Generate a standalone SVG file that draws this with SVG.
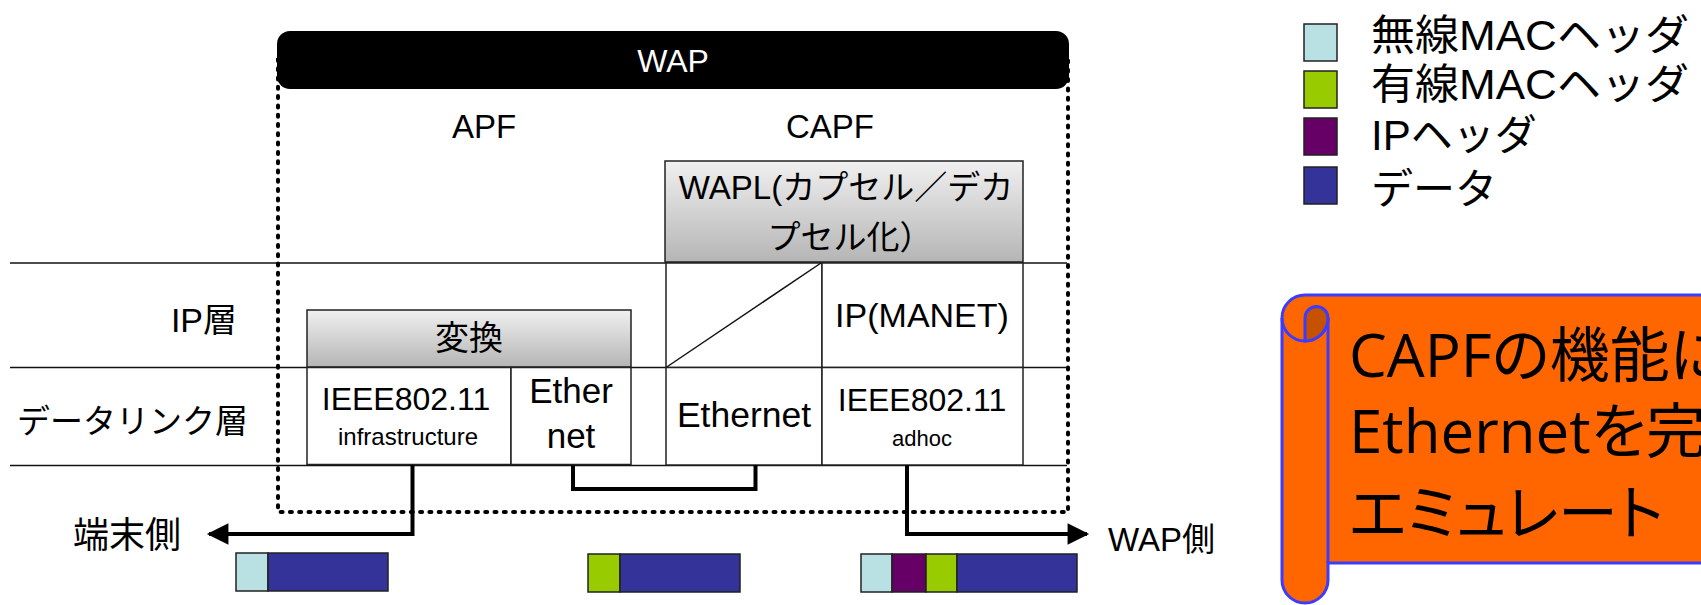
<svg xmlns="http://www.w3.org/2000/svg" width="1701" height="605" viewBox="0 0 1701 605">
<defs>
<linearGradient id="gray" x1="0" y1="0" x2="0" y2="1">
<stop offset="0" stop-color="#f0f0f0"/>
<stop offset="1" stop-color="#b5b5b5"/>
</linearGradient>
<marker id="arr" viewBox="0 0 10 10" refX="9" refY="5" markerWidth="7.2" markerHeight="5.4" markerUnits="strokeWidth" orient="auto">
<path d="M0,0 L10,5 L0,10 Z" fill="#000"/>
</marker>
</defs>
<style>
text{font-family:'Liberation Sans','Noto Sans CJK JP',sans-serif;fill:#000}
.mid{text-anchor:middle}
.box{fill:#fff;stroke:#222;stroke-width:1.5}
.gbox{fill:url(#gray);stroke:#222;stroke-width:1.5}
.hl{stroke:#111;stroke-width:1.5;fill:none}
.conn{stroke:#000;stroke-width:4;fill:none;stroke-linejoin:miter}
.pk{stroke:#222;stroke-width:1.5}
.c1{fill:#b9e0e3}.c2{fill:#99cc00}.c3{fill:#660066}.c4{fill:#333399}
.scroll{fill:#ff6600;stroke:#3c3cff;stroke-width:3}
.stxt{font-family:'Open Sans','Noto Sans CJK JP',sans-serif;font-size:60px;font-feature-settings:"palt"}
</style>

<!-- layer lines -->
<g id="layers">
<line class="hl" x1="10" y1="263" x2="1067" y2="263"/>
<line class="hl" x1="10" y1="367.5" x2="1067" y2="367.5"/>
<line class="hl" x1="10" y1="465.5" x2="1067" y2="465.5"/>
<text x="237" y="332" font-size="34" text-anchor="end">IP層</text>
<text x="248" y="433" font-size="33" text-anchor="end">データリンク層</text>
</g>

<!-- WAP container -->
<g id="wap">
<rect x="278" y="60" width="790" height="452" fill="none" stroke="#000" stroke-width="4" stroke-dasharray="2 7.3" stroke-linecap="round"/>
<rect x="277" y="31" width="792" height="58" rx="13" fill="#000"/>
<text x="673" y="72" font-size="32" class="mid" style="fill:#fff">WAP</text>
<text x="484" y="138" font-size="33" class="mid">APF</text>
<text x="830" y="138" font-size="33" class="mid">CAPF</text>
</g>

<g id="henkan">
<rect class="gbox" x="307" y="310" width="324" height="57"/>
<text x="469" y="350" font-size="34" class="mid">変換</text>
</g>
<g id="ieee-infra">
<rect class="box" x="307" y="367.5" width="204" height="97"/>
<text x="406" y="410" font-size="32" class="mid">IEEE802.11</text>
<text x="408" y="445" font-size="24" class="mid">infrastructure</text>
</g>
<g id="ether">
<rect class="box" x="511" y="367.5" width="120" height="97"/>
<text x="571" y="403" font-size="35" class="mid">Ether</text>
<text x="571" y="448" font-size="35" class="mid">net</text>
</g>

<g id="wapl">
<rect class="gbox" x="665" y="161" width="358" height="101"/>
<text x="846" y="199" font-size="33" class="mid">WAPL(カプセル／デカ</text>
<text x="850" y="249" font-size="33" class="mid">プセル化）</text>
</g>
<g id="empty-ip">
<rect class="box" x="666" y="263" width="156" height="104.5"/>
<line x1="666" y1="367.5" x2="821" y2="263" stroke="#111" stroke-width="1.5"/>
</g>
<g id="ip-manet">
<rect class="box" x="822" y="263" width="201" height="104.5"/>
<text x="922" y="327" font-size="34" class="mid">IP(MANET)</text>
</g>
<g id="ethernet">
<rect class="box" x="666" y="367.5" width="156" height="97.5"/>
<text x="744" y="427" font-size="35.5" class="mid">Ethernet</text>
</g>
<g id="ieee-adhoc">
<rect class="box" x="822" y="367.5" width="201" height="97.5"/>
<text x="922" y="411" font-size="32" class="mid">IEEE802.11</text>
<text x="922" y="446" font-size="22" class="mid">adhoc</text>
</g>

<!-- connectors -->
<g id="connectors">
<path class="conn" d="M412.5,465 V534 H209" marker-end="url(#arr)"/>
<path class="conn" d="M573,465 V489 H755.5 V465"/>
<path class="conn" d="M907,465 V534 H1087" marker-end="url(#arr)"/>
</g>

<g id="side-labels">
<text x="73" y="548" font-size="36">端末側</text>
<text x="1108" y="551" font-size="33">WAP側</text>
</g>

<!-- packets -->
<g id="packet1">
<rect class="pk c1" x="236" y="553" width="32" height="38"/>
<rect class="pk c4" x="268" y="553" width="120" height="38"/>
</g>
<g id="packet2">
<rect class="pk c2" x="588" y="554" width="32" height="38"/>
<rect class="pk c4" x="620" y="554" width="120" height="38"/>
</g>
<g id="packet3">
<rect class="pk c1" x="861" y="554" width="31" height="38"/>
<rect class="pk c3" x="892" y="554" width="34" height="38"/>
<rect class="pk c2" x="926" y="554" width="31" height="38"/>
<rect class="pk c4" x="957" y="554" width="120" height="38"/>
</g>

<!-- legend -->
<g id="legend">
<rect class="pk c1" x="1304" y="24" width="33" height="37"/>
<rect class="pk c2" x="1304" y="71" width="33" height="37"/>
<rect class="pk c3" x="1304" y="118" width="33" height="37"/>
<rect class="pk c4" x="1304" y="167" width="33" height="37"/>
<text x="1371" y="50" font-size="42" textLength="318" lengthAdjust="spacingAndGlyphs">無線MACヘッダ</text>
<text x="1371" y="99" font-size="42" textLength="318" lengthAdjust="spacingAndGlyphs">有線MACヘッダ</text>
<text x="1371" y="150" font-size="42">IPヘッダ</text>
<text x="1371" y="204" font-size="42">データ</text>
</g>

<!-- scroll callout -->
<g id="scroll">
<path class="scroll" d="M1305,295 H1720 V563 H1328 V580 A23,23 0 0 1 1282,580 V318 A23,23 0 0 1 1305,295 Z"/>
<path class="scroll" d="M1328,563 V318" fill="none"/>
<path d="M1282,318 A23,23 0 0 0 1328,318" fill="none" stroke="#3c3cff" stroke-width="3"/>
<path d="M1305,341 A23,23 0 0 0 1328,318 A11.5,11.5 0 0 0 1305,318 Z" fill="#c65200" stroke="#3c3cff" stroke-width="3"/>
<text class="stxt" x="1349" y="377">CAPFの機能に</text>
<text class="stxt" x="1349" y="453">Ethernetを完</text>
<text class="stxt" x="1349" y="535">エミュレート</text>
</g>
</svg>
